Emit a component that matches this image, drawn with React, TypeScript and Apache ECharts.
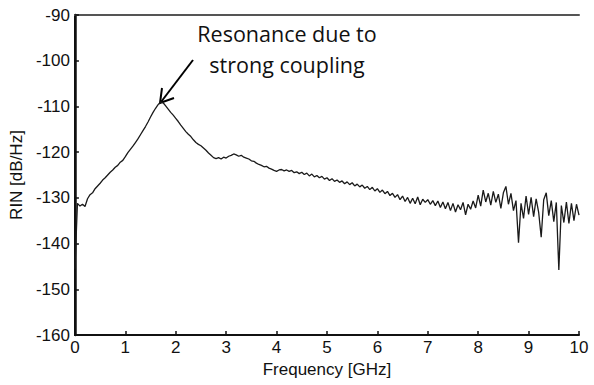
import React, { useEffect, useRef } from "react";
import * as echarts from "echarts";

const FREQ_STEP_GHZ = 0.05;
const RIN_DB: number[] = [
  -145.5, -131.2, -131.8, -131.4, -131.9, -130.2, -129.3, -128.9, -128.0, -127.4,
  -126.8, -126.1, -125.6, -125.0, -124.4, -123.9, -123.3, -122.9, -122.2, -121.8,
  -121.0, -120.1, -119.4, -118.7, -117.9, -117.1, -116.2, -115.3, -114.4, -113.4,
  -112.3, -111.3, -110.4, -109.6, -109.0, -109.2, -109.9, -110.6, -111.3, -111.9,
  -112.6, -113.3, -114.1, -114.8, -115.5, -116.1, -116.6, -117.3, -117.9, -118.3,
  -118.6, -119.1, -119.6, -120.2, -120.7, -121.2, -121.4, -121.2, -121.5, -121.1,
  -121.3, -120.9, -120.7, -120.4, -120.6, -120.9, -120.7, -121.1, -121.3, -121.5,
  -121.9, -122.0, -122.4, -122.7, -122.9, -123.2, -123.1, -123.5, -123.7, -124.0,
  -124.2, -123.9, -123.8, -124.1, -123.9, -124.2, -124.0, -124.5, -124.3, -124.7,
  -124.4, -124.9, -124.6, -125.2, -124.8, -125.4, -125.1, -125.6, -125.3, -125.9,
  -125.6, -126.2, -125.8, -126.4, -126.1, -126.6, -126.3, -126.9, -126.5, -127.1,
  -126.7, -127.4, -127.0, -127.6, -127.2, -127.9, -127.5, -128.2, -127.7, -128.5,
  -128.0, -128.8, -128.3, -129.1, -128.6, -129.5, -129.0, -129.9, -129.3, -130.4,
  -129.6, -130.8, -129.9, -131.2, -130.1, -131.3, -129.8, -131.5, -130.3, -131.0,
  -130.4, -131.4, -130.6, -131.7, -130.7, -132.1, -130.9, -132.4, -131.0, -132.8,
  -131.2, -133.1, -131.5, -132.6, -131.0, -133.7, -131.4, -132.5, -130.7, -132.2,
  -129.4, -131.8, -128.3, -130.9, -129.0, -131.6, -128.6, -131.0, -129.2, -132.3,
  -128.9, -127.5, -131.4, -129.0, -132.8, -130.6, -139.8, -131.2, -134.5, -129.6,
  -133.6, -129.9, -134.1, -130.2, -133.2, -138.6, -130.4, -128.9, -133.9, -130.6,
  -135.2, -131.0, -145.8, -131.7, -135.4, -130.9, -135.6, -131.2, -135.0, -131.4,
  -133.8,
];

const Y_MIN = -160;
const Y_MAX = -90;
const Y_STEP = 10;
const X_MIN = 0;
const X_MAX = 10;
const X_STEP = 1;

const ANNOTATION_LINES = ["Resonance due to", "strong coupling"];

export default function App() {
  const ref = useRef<HTMLDivElement>(null);

  useEffect(() => {
    if (!ref.current) return;
    const chart = echarts.init(ref.current, null, { renderer: "svg" });
    const data = RIN_DB.map((v, i) => [+(i * FREQ_STEP_GHZ).toFixed(2), v]);
    const labelFont = { fontFamily: "Liberation Sans, Arial, sans-serif", fontSize: 17, color: "#111" };
    const annFont = { fontFamily: "Open Sans, Lato, sans-serif", fontSize: 21.5, fill: "#111", align: "center", verticalAlign: "middle" };

    chart.setOption({
      animation: false,
      backgroundColor: "#fff",
      grid: { left: 73, right: 15, top: 15, bottom: 50 },
      xAxis: [
        {
          type: "value",
          min: X_MIN,
          max: X_MAX,
          interval: X_STEP,
          name: "Frequency [GHz]",
          nameLocation: "middle",
          nameGap: 24,
          nameTextStyle: { ...labelFont },
          axisLine: { show: true, onZero: false, lineStyle: { color: "#111", width: 2 } },
          axisTick: { show: true, inside: true, length: 4, lineStyle: { color: "#111", width: 1.5 } },
          axisLabel: { ...labelFont, margin: 4 },
          splitLine: { show: false },
        },
        {
          type: "value",
          position: "top",
          min: X_MIN,
          max: X_MAX,
          axisLine: { show: true, lineStyle: { color: "#555", width: 2 } },
          axisTick: { show: false },
          axisLabel: { show: false },
          splitLine: { show: false },
        },
      ],
      yAxis: [
        {
          type: "value",
          min: Y_MIN,
          max: Y_MAX,
          interval: Y_STEP,
          name: "RIN [dB/Hz]",
          nameLocation: "middle",
          nameGap: 45,
          nameRotate: 90,
          nameTextStyle: { ...labelFont },
          axisLine: { show: true, onZero: false, lineStyle: { color: "#111", width: 2 } },
          axisTick: { show: true, inside: true, length: 4, lineStyle: { color: "#111", width: 1.5 } },
          axisLabel: { ...labelFont, margin: 5 },
          splitLine: { show: false },
        },
        {
          type: "value",
          position: "right",
          min: Y_MIN,
          max: Y_MAX,
          axisLine: { show: true, lineStyle: { color: "#111", width: 2.5 } },
          axisTick: { show: false },
          axisLabel: { show: false },
          splitLine: { show: false },
        },
      ],
      series: [
        {
          type: "line",
          data,
          xAxisIndex: 0,
          yAxisIndex: 0,
          showSymbol: false,
          symbol: "none",
          lineStyle: { color: "#1a1a1a", width: 1.3 },
          z: 3,
        },
      ],
      graphic: [
        { type: "text", x: 287, y: 33, style: { text: ANNOTATION_LINES[0], ...annFont } },
        { type: "text", x: 287, y: 64, style: { text: ANNOTATION_LINES[1], ...annFont } },
        {
          type: "line",
          shape: { x1: 193, y1: 60, x2: 161, y2: 102 },
          style: { stroke: "#000", lineWidth: 2 },
        },
        {
          type: "polyline",
          shape: { points: [[174, 98], [160, 103], [162, 88]] },
          style: { stroke: "#000", lineWidth: 2, fill: null },
        },
      ],
    });

    return () => chart.dispose();
  }, []);

  return (
    <div
      ref={ref}
      style={{ position: "fixed", left: 0, top: 0, width: 594, height: 385, background: "#fff" }}
    />
  );
}
